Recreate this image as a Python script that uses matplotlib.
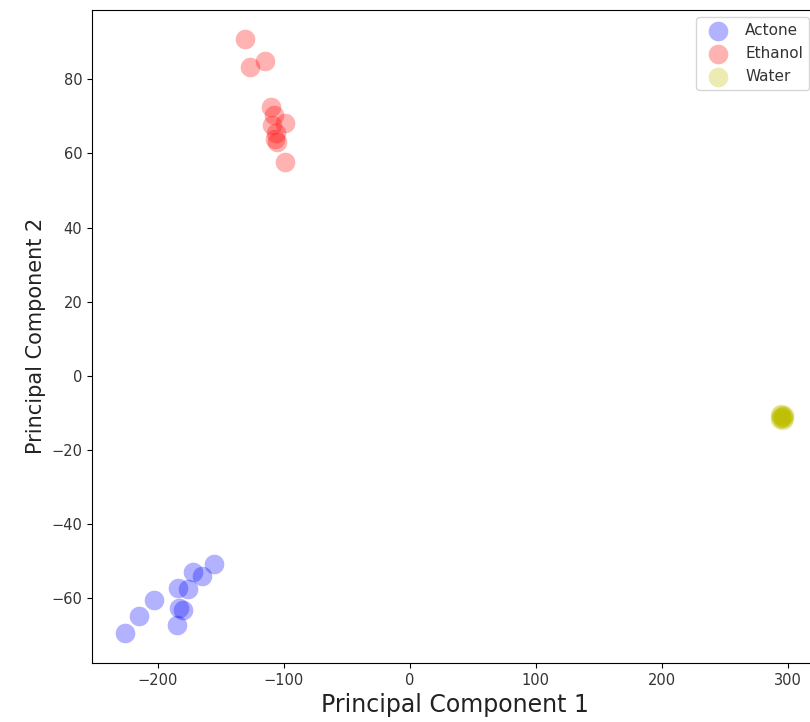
import numpy as np
import matplotlib.pyplot as plt

# PCA scores
acetone_x = [-226, -215, -203, -184, -176, -183, -180, -185, -172, -165, -155]
acetone_y = [-69.5, -64.9, -60.5, -57.3, -57.6, -62.7, -63.2, -67.3, -53.0, -54.0, -50.8]

ethanol_x = [-131, -127, -115, -110, -108, -109, -99, -106, -107, -105, -99]
ethanol_y = [90.8, 83.2, 84.9, 72.4, 70.3, 67.8, 68.1, 65.4, 63.8, 63.0, 57.8]

water_x = [294, 295, 296, 297, 294, 295, 296, 297, 295, 296]
water_y = [-10.5, -11.0, -10.8, -11.5, -11.8, -10.2, -12.0, -10.6, -11.3, -11.1]

labels = ['Actone', 'Ethanol', 'Water']
colors = ['b', 'r', 'y']

fig = plt.figure(figsize=(8.1, 7.22), dpi=100)
ax = fig.add_axes([0.1136, 0.0817, 0.895, 0.905])

groups = [(acetone_x, acetone_y), (ethanol_x, ethanol_y), (water_x, water_y)]
for (xs, ys), lab, c in zip(groups, labels, colors):
    ax.scatter(xs, ys, c=c, s=200, alpha=0.3, linewidths=0, label=lab)

ax.tick_params(labelsize=10.5, labelcolor='#333333')
ax.set_xlabel('Principal Component 1', fontsize=17, color='#222222')
ax.set_ylabel('Principal Component 2', fontsize=15, color='#222222')
leg = ax.legend(loc='upper right', fontsize=11)
for t in leg.get_texts():
    t.set_color('#333333')

fig.savefig('out.png', dpi=100)
